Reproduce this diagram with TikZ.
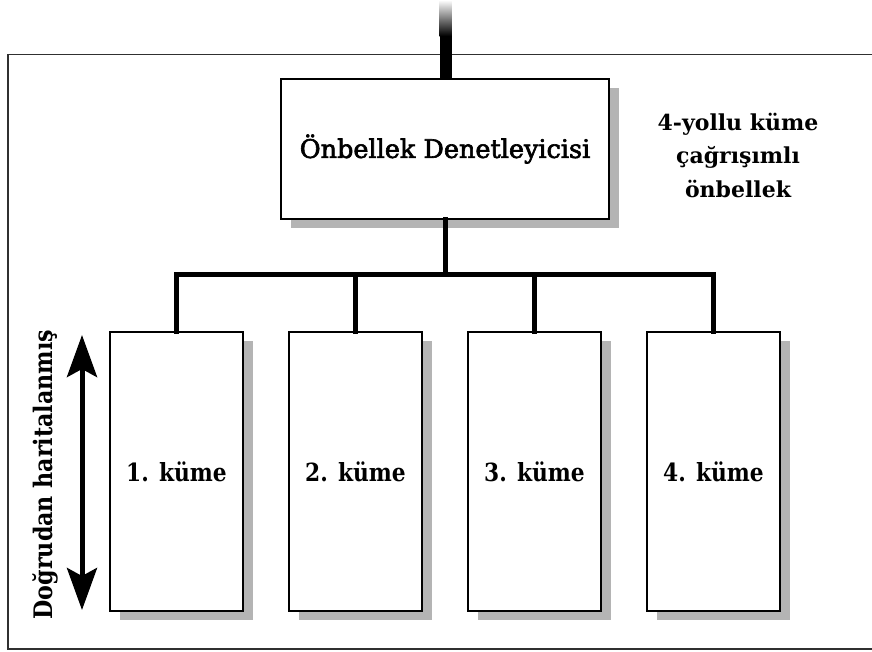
\documentclass[tikz,border=0pt]{standalone}
\usepackage{fontspec}
\setmainfont{DejaVu Serif}
\newfontfamily\labelfont{DejaVu Serif}[FakeStretch=0.87]
\newfontfamily\ctrlfont{DejaVu Serif}[FakeBold=2.5]
\usetikzlibrary{arrows.meta,shadows}
\definecolor{shadowgray}{HTML}{B4B4B4}
\definecolor{framegray}{HTML}{303030}
\tikzset{
  unitbox/.style={draw=black, line width=1.6pt, fill=white, inner sep=0pt,
    drop shadow={shadow xshift=10pt, shadow yshift=-9pt, fill=shadowgray, opacity=1}},
  ctrlbox/.style={unitbox, minimum width=328pt, minimum height=140pt,
    font=\ctrlfont\fontsize{25.5}{28}\selectfont},
  setbox/.style={unitbox, minimum width=133pt, minimum height=279pt,
    font=\labelfont\bfseries\fontsize{25}{28}\selectfont},
  sidelabel/.style={font=\labelfont\bfseries\fontsize{25.5}{28}\selectfont, inner sep=0pt},
  note/.style={font=\bfseries\fontsize{22}{33.5}\selectfont, align=center, inner sep=0pt},
  bus/.style={line width=5pt, line join=miter, line cap=rect},
}
\begin{document}
\begin{tikzpicture}[x=1pt,y=-1pt]
  \useasboundingbox[fill=white] (0,0) rectangle (872,651);

  % outer frame, open on the right
  \draw[line width=1.8pt, framegray] (872,54.5) -- (8,54.5) -- (8,649) -- (872,649);

  % cache controller and the four sets
  \node[ctrlbox] (ctrl) at (445,149) {Önbellek Denetleyicisi};
  \node[setbox] (s1) at (176.5,471.5) {1. küme};
  \node[setbox] (s2) at (355.5,471.5) {2. küme};
  \node[setbox] (s3) at (534.5,471.5) {3. küme};
  \node[setbox] (s4) at (713.5,471.5) {4. küme};

  % incoming feed from above, fading in
  \coordinate (feedmid) at (445.5,36);
  \shade[top color=white, bottom color=black] (439.5,0) rectangle (451.5,36);
  \draw[line width=12pt] (feedmid) -- (ctrl.north -| feedmid);

  % distribution bus to the sets
  \coordinate (junction) at (445,274);
  \draw[bus] (ctrl.south) -- (junction);
  \draw[bus] (s1.north) -- (s1.north |- junction) -- (s4.north |- junction) -- (s4.north);
  \draw[bus] (s2.north) -- (s2.north |- junction);
  \draw[bus] (s3.north) -- (s3.north |- junction);

  % direct-mapped extent
  \coordinate (arrtop) at (82,335);
  \coordinate (arrbot) at (82,610);
  \draw[line width=5pt, {Stealth[length=42pt,width=30pt,inset=8pt]}-{Stealth[length=42pt,width=30pt,inset=8pt]}] (arrtop) -- (arrbot);
  \node[sidelabel, rotate=90, anchor=base] (dm) at (52,474.5) {Doğrudan haritalanmış};

  % cache type label
  \node[note] (kind) at (738,155) {4-yollu küme\\çağrışımlı\\önbellek};
\end{tikzpicture}
\end{document}
